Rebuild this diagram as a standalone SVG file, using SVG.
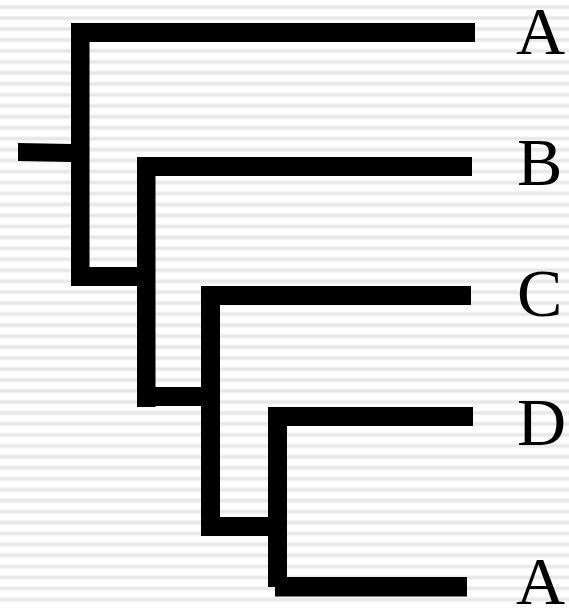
<svg xmlns="http://www.w3.org/2000/svg" width="569" height="608" viewBox="0 0 569 608">
  <defs>
    <pattern id="stripes" patternUnits="userSpaceOnUse" x="0" y="0" width="569" height="10.97">
      <rect x="0" y="4.6" width="569" height="4.8" fill="#f4f4f4"/>
      <rect x="0" y="5.6" width="569" height="2.8" fill="#e7e7e7"/>
    </pattern>
    <style>
      .br { fill: #000; }
      .lbl { font-family: 'Liberation Serif', 'Times New Roman', Times, serif; font-size: 68px; fill: #000; }
    </style>
  </defs>
  <rect x="0" y="0" width="569" height="608" fill="#fff"/>
  <rect x="0" y="0" width="569" height="608" fill="url(#stripes)"/>
  <g id="connectors">
    <polygon class="br" points="18,143 72,144 72,162 18,161"/>
    <rect class="br" x="71" y="23" width="18.5" height="263"/>
    <rect class="br" x="71" y="23" width="404" height="19"/>
    <rect class="br" x="71" y="267" width="84" height="19"/>
    <rect class="br" x="137" y="157" width="18.5" height="250"/>
    <rect class="br" x="137" y="157" width="335" height="19"/>
    <rect class="br" x="137" y="387" width="82" height="19"/>
    <rect class="br" x="201" y="286" width="19" height="250"/>
    <rect class="br" x="201" y="286" width="270" height="19"/>
    <rect class="br" x="201" y="517" width="85" height="19"/>
    <rect class="br" x="268" y="407" width="19" height="180"/>
    <rect class="br" x="268" y="407" width="205" height="19"/>
    <rect class="br" x="275" y="577" width="192" height="19.5"/>
  </g>
  <g id="leaf-A1"><text class="lbl" font-family="Liberation Serif" x="516" y="54">A</text></g>
  <g id="leaf-B"><text class="lbl" font-family="Liberation Serif" x="517" y="185">B</text></g>
  <g id="leaf-C"><text class="lbl" font-family="Liberation Serif" x="517" y="316">C</text></g>
  <g id="leaf-D"><text class="lbl" font-family="Liberation Serif" x="517" y="445">D</text></g>
  <g id="leaf-A2"><text class="lbl" font-family="Liberation Serif" x="516" y="604">A</text></g>
</svg>
